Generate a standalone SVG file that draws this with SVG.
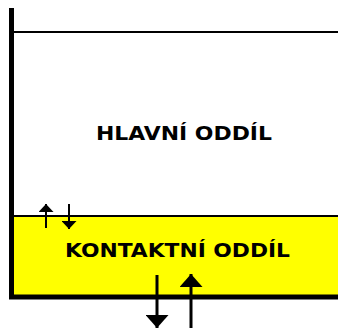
<svg xmlns="http://www.w3.org/2000/svg" width="338" height="329" viewBox="0 0 338 329">
  <style>
    .wall { stroke: #000; stroke-width: 5; fill: none; }
    .line { stroke: #000; stroke-width: 2; fill: none; }
    .label { font-family: "DejaVu Sans", Verdana, sans-serif; font-weight: bold; font-size: 20px; fill: #000; }
    .flow-s { stroke: #000; stroke-width: 2; fill: none; }
    .flow-l { stroke: #000; stroke-width: 3; fill: none; }
  </style>
  <defs>
    <marker id="headS" markerUnits="userSpaceOnUse" markerWidth="8" markerHeight="15" viewBox="0 0 8 15" refX="8" refY="7.5" orient="auto">
      <path d="M0,0 L8,7.5 L0,15 Z" fill="#000"/>
    </marker>
    <marker id="headL" markerUnits="userSpaceOnUse" markerWidth="13" markerHeight="23" viewBox="0 0 13 23" refX="13" refY="11.5" orient="auto">
      <path d="M0,0 L13,11.5 L0,23 Z" fill="#000"/>
    </marker>
  </defs>

  <rect width="338" height="329" fill="#fff"/>

  <!-- main compartment: surface line and label -->
  <g id="main">
    <line class="line" x1="13" y1="32" x2="338" y2="32"/>
    <text class="label" x="96" y="140" textLength="176" lengthAdjust="spacingAndGlyphs">HLAVNÍ ODDÍL</text>
  </g>

  <!-- contact compartment: yellow layer at the bottom -->
  <g id="contact">
    <rect x="12" y="216" width="326" height="81" fill="#ffff00"/>
    <line class="line" x1="12" y1="216" x2="338" y2="216"/>
    <line class="wall" x1="9" y1="297" x2="338" y2="297"/>
    <text class="label" x="65" y="257" textLength="225" lengthAdjust="spacingAndGlyphs">KONTAKTNÍ ODDÍL</text>
  </g>

  <!-- left tank wall -->
  <g id="wall">
    <line class="wall" x1="11.5" y1="8" x2="11.5" y2="299"/>
  </g>

  <!-- exchange arrows -->
  <g id="connectors">
    <line class="flow-s" x1="46" y1="228" x2="46" y2="204" marker-end="url(#headS)"/>
    <line class="flow-s" x1="69" y1="204" x2="69" y2="229" marker-end="url(#headS)"/>
    <line class="flow-l" x1="157" y1="275" x2="157" y2="328" marker-end="url(#headL)"/>
    <line class="flow-l" x1="191" y1="328" x2="191" y2="274" marker-end="url(#headL)"/>
  </g>
</svg>
